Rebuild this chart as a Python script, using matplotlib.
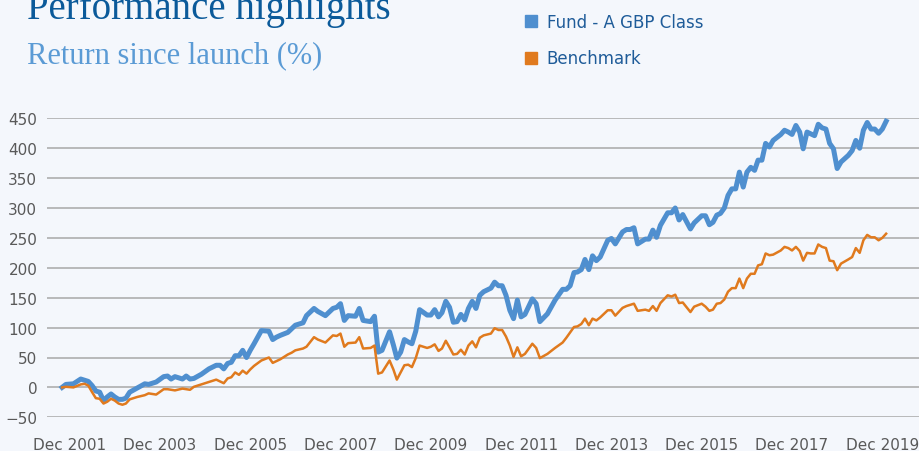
import pandas as pd
import matplotlib
matplotlib.use("Agg")
import matplotlib.pyplot as plt
from matplotlib.lines import Line2D

# months since launch (Oct 2001) and cumulative return (%)
month_no = [0, 1, 3, 5, 6, 7, 8, 9, 10, 11, 12, 13, 14, 15, 16, 17, 18, 20, 22, 23,
            25, 27, 28, 29, 30, 32, 33, 34, 35, 37, 39, 41, 42, 43, 44, 45, 46, 47, 48, 49,
            50, 51, 53, 55, 56, 57, 58, 60, 61, 62, 64, 65, 67, 68, 70, 72, 73, 74, 75, 76,
            78, 79, 80, 82, 83, 84, 85, 87, 88, 89, 90, 91, 92, 93, 94, 95, 97, 98, 99, 100,
            101, 102, 103, 104, 105, 106, 107, 108, 109, 110, 111, 112, 114, 115, 116, 117, 118, 119, 120, 121,
            122, 123, 125, 126, 127, 129, 131, 133, 134, 135, 136, 137, 138, 139, 140, 141, 142, 143, 145, 146,
            147, 149, 150, 151, 152, 153, 155, 156, 157, 158, 159, 161, 162, 163, 164, 165, 167, 168, 170, 171,
            172, 173, 174, 175, 176, 177, 178, 179, 180, 181, 182, 183, 184, 185, 186, 187, 188, 189, 191, 192,
            193, 194, 195, 196, 197, 198, 199, 200, 201, 202, 203, 204, 205, 206, 207, 209, 210, 211, 212, 213,
            214, 215, 216, 217, 218, 219]

fund = [0, 5, 6, 14, 12, 10, 3, -6, -8, -22, -16, -11, -16, -20, -20, -18, -8, -1, 6, 5,
        9, 18, 19, 14, 18, 14, 19, 14, 15, 22, 31, 37, 37, 31, 40, 42, 53, 53, 62, 50,
        62, 73, 95, 94, 80, 84, 87, 92, 98, 104, 108, 120, 132, 127, 120, 132, 134, 140, 112, 120,
        119, 132, 112, 110, 119, 59, 62, 93, 71, 49, 59, 80, 76, 73, 94, 130, 121, 121, 130, 118,
        125, 144, 134, 109, 110, 122, 113, 132, 144, 132, 154, 160, 166, 176, 170, 170, 154, 129, 115, 146,
        118, 122, 148, 140, 110, 123, 146, 164, 164, 170, 192, 193, 197, 214, 197, 220, 212, 218, 246, 249,
        240, 260, 264, 264, 267, 240, 248, 248, 263, 251, 271, 292, 292, 300, 280, 289, 265, 275, 287, 287,
        272, 276, 288, 291, 300, 321, 332, 332, 360, 335, 360, 368, 363, 380, 380, 408, 402, 413, 423, 430,
        427, 423, 438, 427, 399, 427, 424, 421, 440, 434, 432, 408, 399, 366, 377, 388, 396, 413, 400, 430,
        443, 432, 432, 425, 432, 445]

benchmark = [0, 1, 0, 5, 6, 3, -8, -18, -19, -27, -24, -19, -22, -27, -29, -27, -20, -16, -13, -10,
             -12, -3, -3, -4, -5, -2, -3, -4, 1, 5, 9, 13, 10, 7, 15, 17, 25, 21, 28, 23,
             30, 36, 45, 50, 41, 44, 47, 55, 58, 62, 65, 68, 84, 80, 75, 87, 86, 90, 68, 74,
             75, 84, 65, 66, 70, 23, 25, 45, 30, 13, 25, 37, 38, 34, 49, 70, 66, 68, 72, 61,
             65, 78, 67, 55, 56, 63, 55, 70, 77, 67, 83, 87, 90, 99, 96, 96, 85, 70, 51, 67,
             52, 56, 73, 66, 49, 56, 66, 75, 83, 92, 101, 102, 106, 115, 104, 115, 112, 117, 129, 129,
             120, 133, 136, 138, 140, 128, 130, 128, 136, 128, 141, 154, 152, 155, 141, 142, 126, 135, 140, 135,
             128, 130, 140, 141, 147, 160, 166, 166, 182, 166, 182, 190, 190, 204, 206, 224, 221, 222, 229, 235,
             233, 229, 235, 228, 212, 225, 224, 224, 239, 235, 233, 212, 211, 196, 207, 214, 218, 233, 225, 246,
             255, 251, 251, 246, 250, 257]

series_names = ["Fund - A GBP Class", "Benchmark"]
tick_years = [2001, 2003, 2005, 2007, 2009, 2011, 2013, 2015, 2017, 2019]
y_ticks = [-50, 0, 50, 100, 150, 200, 250, 300, 350, 400, 450]

launch = pd.Timestamp("2001-10-01")
dates = [launch + pd.DateOffset(months=m) for m in month_no]

bg = "#F4F7FC"
blue = "#4F8FCF"
orange = "#E07A1E"

fig = plt.figure(figsize=(9.2, 4.52), dpi=100, facecolor=bg)
ax = fig.add_axes([47 / 920, 33.7 / 452, 1 - 47 / 920, 299 / 452])
ax.set_facecolor(bg)

ax.plot(dates, fund, color=blue, lw=3.6, solid_joinstyle="round", zorder=3)
ax.plot(dates, benchmark, color=orange, lw=1.8, solid_joinstyle="round", zorder=4)

ax.set_ylim(-50, 450)
ax.set_yticks(y_ticks)
ax.set_xlim(launch - pd.DateOffset(months=4), launch + pd.DateOffset(months=228))
ax.set_xticks([pd.Timestamp(f"{y}-12-01") for y in tick_years])
ax.set_xticklabels([f"Dec {y}" for y in tick_years])

ax.grid(axis="y", color="#A8A8A8", lw=1.1)
ax.set_axisbelow(True)
for s in ax.spines.values():
    s.set_visible(False)
ax.tick_params(length=0, labelsize=11, labelcolor="#595959")
ax.tick_params(axis="x", pad=14)
ax.tick_params(axis="y", pad=7)

# title is partly clipped at the top edge, as in the original
fig.text(27 / 920, 1 - 19 / 452, "Performance highlights", family="Liberation Serif",
         fontsize=28, color="#0B5A9A", va="baseline")
fig.text(27 / 920, 1 - 63 / 452, "Return since launch (%)", family="Liberation Serif",
         fontsize=22, color="#5B9BD5", va="baseline")

handles = [Line2D([], [], ls="none", marker="s", markersize=8, color=c) for c in (blue, orange)]
leg = fig.legend(handles, series_names, loc="upper left", bbox_to_anchor=(525 / 920, 1 - 14 / 452),
                 frameon=False, fontsize=12, labelcolor="#1F5C99", handlelength=0.7,
                 handletextpad=0.6, labelspacing=1.1, borderpad=0, borderaxespad=0)

fig.savefig("out.png", dpi=100, facecolor=bg)
